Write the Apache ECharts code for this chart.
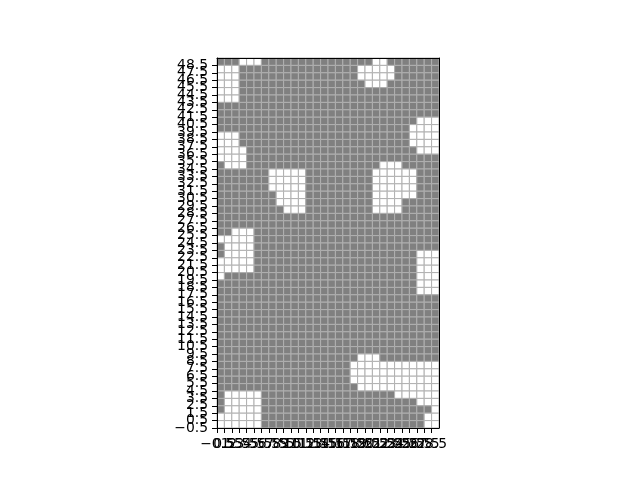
<!DOCTYPE html>
<html>
<head>
<meta charset="utf-8">
<script src="https://cdn.jsdelivr.net/npm/echarts@6/dist/echarts.min.js"></script>
<style>html,body{margin:0;padding:0;background:#fff;}#chart{width:640px;height:480px;}</style>
</head>
<body>
<div id="chart"></div>
<script>
// Grid rows, listed from the top row (y = 49) down to the bottom row (y = 0).
// '1' = white cell, '0' = gray cell; 30 columns (x = 0..29).
const rowsTopDown = [
  "000111000000000000000110000000", // 49
  "111000000000000000011111000000", // 48
  "111000000000000000011111000000", // 47
  "111000000000000000001110000000", // 46
  "111000000000000000000000000000", // 45
  "111000000000000000000000000000", // 44
  "000000000000000000000000000000", // 43
  "000000000000000000000000000000", // 42
  "000000000000000000000000000111", // 41
  "000000000000000000000000001111", // 40
  "111000000000000000000000001111", // 39
  "111000000000000000000000001111", // 38
  "111100000000000000000000000111", // 37
  "111100000000000000000000000000", // 36
  "011100000000000000000011100000", // 35
  "000000011111000000000111111000", // 34
  "000000011111000000000111111000", // 33
  "000000011111000000000111111000", // 32
  "000000001111000000000111111000", // 31
  "000000001111000000000111100000", // 30
  "000000000111000000000111100000", // 29
  "000000000000000000000000000000", // 28
  "000000000000000000000000000000", // 27
  "001110000000000000000000000000", // 26
  "111110000000000000000000000000", // 25
  "011110000000000000000000000000", // 24
  "011110000000000000000000000111", // 23
  "111110000000000000000000000111", // 22
  "111110000000000000000000000111", // 21
  "100000000000000000000000000111", // 20
  "000000000000000000000000000111", // 19
  "000000000000000000000000000111", // 18
  "000000000000000000000000000000", // 17
  "000000000000000000000000000000", // 16
  "000000000000000000000000000000", // 15
  "000000000000000000000000000000", // 14
  "000000000000000000000000000000", // 13
  "000000000000000000000000000000", // 12
  "000000000000000000000000000000", // 11
  "000000000000000000000000000000", // 10
  "000000000000000000011100000000", // 9
  "000000000000000000111111111111", // 8
  "000000000000000000111111111111", // 7
  "000000000000000000111111111111", // 6
  "000000000000000000011111111111", // 5
  "011111000000000000000000111111", // 4
  "011111000000000000000000000111", // 3
  "011111000000000000000000000001", // 2
  "111111000000000000000000000011", // 1
  "111111000000000000000000000011"  // 0
];

// Tick positions (cell edges) that carry a tick mark and label.
const xTicks = [-0.5,0.5,1.5,2.5,3.5,4.5,5.5,6.5,7.5,8.5,9.5,10.5,11.5,12.5,13.5,14.5,
  15.5,16.5,17.5,18.5,19.5,20.5,21.5,22.5,23.5,24.5,25.5,26.5,27.5,28.5];
const yTicks = [-0.5,0.5,1.5,2.5,3.5,4.5,5.5,6.5,7.5,8.5,9.5,10.5,11.5,12.5,13.5,14.5,
  15.5,16.5,17.5,18.5,19.5,20.5,21.5,22.5,23.5,24.5,25.5,26.5,27.5,28.5,29.5,30.5,
  31.5,32.5,33.5,34.5,35.5,36.5,37.5,38.5,39.5,40.5,41.5,42.5,43.5,44.5,45.5,46.5,47.5,48.5];

const nRows = rowsTopDown.length;
const nCols = rowsTopDown[0].length;
const cells = [];
rowsTopDown.forEach((row, i) => {
  const y = nRows - 1 - i;
  for (let x = 0; x < row.length; x++) cells.push([x, y, row[x] === '1' ? 1 : 0]);
});

const fmt = v => (v < 0 ? '\u2212' : '') + Math.abs(v).toFixed(1);
// Label axes: one category per cell edge, the far edge (axis end) unlabelled.
const xEdges = xTicks.map(fmt).concat(['']);
const yEdges = yTicks.map(fmt).concat(['']);
const labelFont = { fontFamily: 'DejaVu Sans', fontSize: 13.9, color: '#000' };
const black = { color: '#000', width: 1 };

const chart = echarts.init(document.getElementById('chart'), null, { renderer: 'canvas' });
chart.setOption({
  animation: false,
  backgroundColor: '#fff',
  grid: { left: 217, top: 58, width: 222, height: 370, containLabel: false },
  xAxis: [{
    type: 'category', data: xEdges, boundaryGap: false, position: 'bottom', z: 5,
    axisLine: { show: true, onZero: false, lineStyle: black },
    axisTick: { show: true, length: 5, inside: false, lineStyle: black,
      interval: (i, v) => v !== '' },
    axisLabel: Object.assign({ interval: 0, margin: 9, hideOverlap: false }, labelFont),
    splitLine: { show: false }
  }, {
    type: 'value', min: -0.5, max: nCols - 0.5, position: 'top', z: 5,
    axisLine: { show: true, onZero: false, lineStyle: black },
    axisTick: { show: false }, axisLabel: { show: false }, splitLine: { show: false }
  }],
  yAxis: [{
    type: 'category', data: yEdges, boundaryGap: false, position: 'left', z: 5,
    axisLine: { show: true, onZero: false, lineStyle: black },
    axisTick: { show: true, length: 5, inside: false, lineStyle: black,
      interval: (i, v) => v !== '' },
    axisLabel: Object.assign({ interval: 0, margin: 9, hideOverlap: false }, labelFont),
    splitLine: { show: false }
  }, {
    type: 'value', min: -0.5, max: nRows - 0.5, position: 'right', z: 5,
    axisLine: { show: true, onZero: false, lineStyle: black },
    axisTick: { show: false }, axisLabel: { show: false }, splitLine: { show: false }
  }],
  series: [{
    type: 'custom',
    xAxisIndex: 1, yAxisIndex: 1,
    data: cells,
    z: 2,
    renderItem: function (params, api) {
      const x = api.value(0), y = api.value(1), v = api.value(2);
      const p0 = api.coord([x - 0.5, y + 0.5]);
      const p1 = api.coord([x + 0.5, y - 0.5]);
      return {
        type: 'rect',
        shape: { x: p0[0], y: p0[1], width: p1[0] - p0[0], height: p1[1] - p0[1] },
        style: { fill: v ? '#ffffff' : '#808080', stroke: '#b0b0b0', lineWidth: 1 }
      };
    }
  }]
});
</script>
</body>
</html>
